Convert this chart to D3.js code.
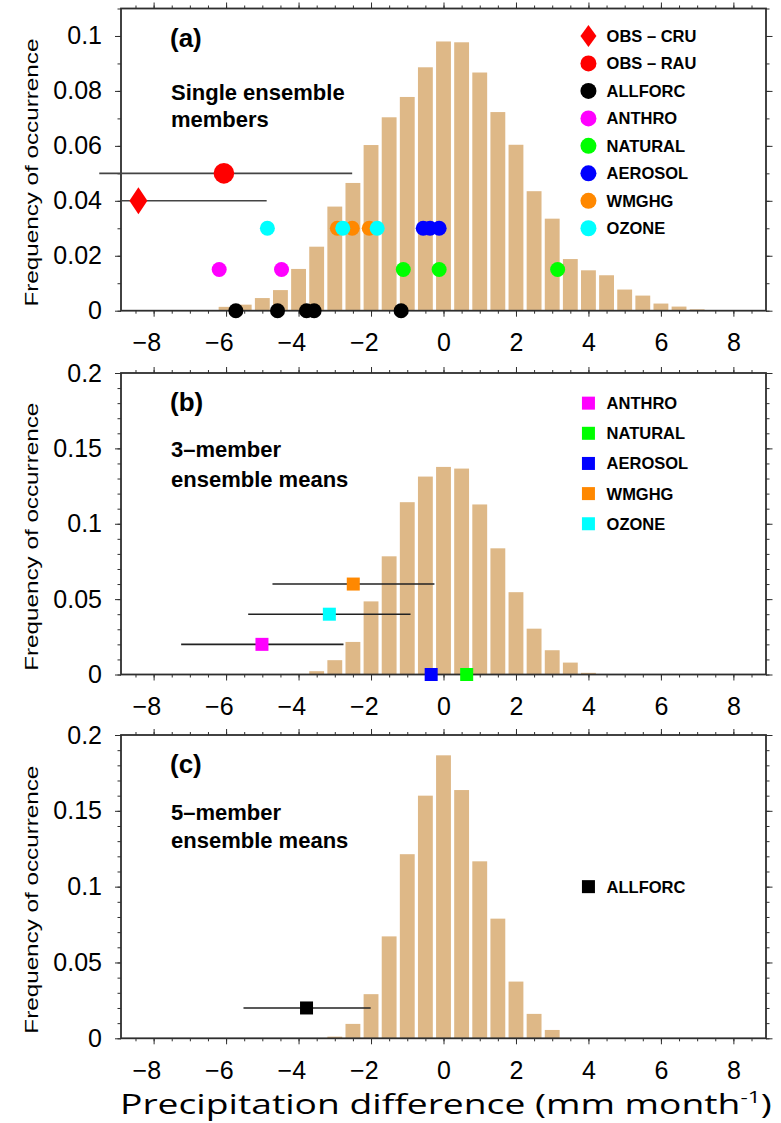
<!DOCTYPE html>
<html>
<head>
<meta charset="utf-8">
<script src="https://cdn.jsdelivr.net/npm/d3@7"></script>
<style>
body { margin: 0; background: #fff; }
svg { display: block; font-family: "Liberation Sans", Arial, Helvetica, sans-serif; }
</style>
</head>
<body>
<div id="chart"></div>
<script>
// histogram bin centres (mm/month) and frequency of occurrence
var binsA = [-6,-5.5,-5,-4.5,-4,-3.5,-3,-2.5,-2,-1.5,-1,-0.5,0,0.5,1,1.5,2,2.5,3,3.5,4,4.5,5,5.5,6,6.5,7];
var freqA = [0.0014,0.0022,0.0046,0.0075,0.0152,0.0233,0.0379,0.0465,0.0603,0.0704,0.0778,0.0886,0.0980,0.0977,0.0867,0.0723,0.0604,0.0435,0.0335,0.0188,0.0147,0.0129,0.0077,0.0055,0.0026,0.0015,0.0005];
var binsB = [-4,-3.5,-3,-2.5,-2,-1.5,-1,-0.5,0,0.5,1,1.5,2,2.5,3,3.5,4];
var freqB = [0.0004,0.0022,0.0095,0.0216,0.0485,0.0784,0.1143,0.1313,0.1377,0.1366,0.1128,0.0837,0.0546,0.0304,0.0161,0.0079,0.0011];
var binsC = [-3,-2.5,-2,-1.5,-1,-0.5,0,0.5,1,1.5,2,2.5,3];
var freqC = [0.0011,0.0095,0.0291,0.0672,0.1214,0.1600,0.1866,0.1637,0.1167,0.0789,0.0374,0.0161,0.0055];

// tick labels
var xTicks = [-8,-6,-4,-2,0,2,4,6,8];
var yTicksA = [0,0.02,0.04,0.06,0.08,0.1];
var yTicksBC = [0,0.05,0.1,0.15,0.2];

// (a) single ensemble members
var namesA = ["OBS \u2013 CRU","OBS \u2013 RAU","ALLFORC","ANTHRO","NATURAL","AEROSOL","WMGHG","OZONE"];
var valuesA = [[-8.42],[-6.06],[-5.73,-4.58,-3.78,-3.57,-1.17],[-6.19,-4.47],[-1.11,-0.12,3.15],[-0.56,-0.37,-0.12],[-2.93,-2.52,-2.05],[-4.86,-2.78,-1.83]];
var levelsA = [0.04,0.05,0,0.015,0.015,0.03,0.03,0.03];
var loA = [-8.9,-9.5,null,null,null,null,null,null];
var hiA = [-4.88,-2.52,null,null,null,null,null,null];

// (b) 3-member ensemble means
var namesB = ["ANTHRO","NATURAL","AEROSOL","WMGHG","OZONE"];
var meansB = [-5.01,0.64,-0.34,-2.49,-3.15];
var levelsB = [0.02,0,0,0.06,0.04];
var loB = [-7.24,null,null,-4.72,-5.39];
var hiB = [-2.76,null,null,-0.25,-0.91];

// (c) 5-member ensemble means
var namesC = ["ALLFORC"];
var meansC = [-3.78];
var levelsC = [0.02];
var loC = [-5.52];
var hiC = [-2.01];

var color = {
  "OBS \u2013 CRU": "#ff0000", "OBS \u2013 RAU": "#ff0000", "ALLFORC": "#000000",
  "ANTHRO": "#ff00ff", "NATURAL": "#00ff00", "AEROSOL": "#0000ff",
  "WMGHG": "#ff8800", "OZONE": "#00ffff"
};

var width = 781, height = 1123;
var svg = d3.select("#chart").append("svg")
    .attr("width", width)
    .attr("height", height);

svg.append("rect").attr("width", width).attr("height", height).attr("fill", "#fff");

var left = 121, right = 766;
var x = d3.scaleLinear().domain([-8.9, 8.9]).range([left, right]);
var xMinor = d3.range(-8.5, 8.6, 0.5);
var barHalf = 0.205;
var axisColor = "#2e2e2e";

function stripDomain(sel) { sel.select(".domain").remove(); }

function drawPanel(p) {
  var y = d3.scaleLinear().domain([0, p.ymax]).range([p.bottom, p.top]);
  var g = svg.append("g");
  var yMinor = d3.range(0, p.ymax + 1e-9, 0.01);

  // histogram
  g.append("g").selectAll("rect")
    .data(p.bins)
    .enter().append("rect")
      .attr("x", function(d) { return x(d - barHalf); })
      .attr("width", function(d) { return x(d + barHalf) - x(d - barHalf); })
      .attr("y", function(d, i) { return y(p.freq[i]); })
      .attr("height", function(d, i) { return p.bottom - y(p.freq[i]); })
      .attr("fill", "#deb887");

  // ticks, all pointing outwards
  g.append("g").attr("color", axisColor).attr("transform", "translate(0," + p.bottom + ")")
    .call(d3.axisBottom(x).tickValues(xMinor).tickSize(3).tickFormat("")).call(stripDomain);
  g.append("g").attr("color", axisColor).attr("transform", "translate(0," + p.top + ")")
    .call(d3.axisTop(x).tickValues(xMinor).tickSize(3).tickFormat("")).call(stripDomain);
  g.append("g").attr("color", axisColor).attr("transform", "translate(0," + p.top + ")")
    .call(d3.axisTop(x).tickValues(xTicks).tickSize(6).tickFormat("")).call(stripDomain);
  g.append("g").attr("color", axisColor).attr("transform", "translate(" + left + ",0)")
    .call(d3.axisLeft(y).tickValues(yMinor).tickSize(3.5).tickFormat("")).call(stripDomain);
  g.append("g").attr("color", axisColor).attr("transform", "translate(" + right + ",0)")
    .call(d3.axisRight(y).tickValues(yMinor).tickSize(3.5).tickFormat("")).call(stripDomain);
  g.append("g").attr("color", axisColor).attr("transform", "translate(" + right + ",0)")
    .call(d3.axisRight(y).tickValues(p.yTicks).tickSize(6.5).tickFormat("")).call(stripDomain);

  var xa = g.append("g").attr("color", axisColor).attr("transform", "translate(0," + p.bottom + ")")
    .call(d3.axisBottom(x).tickValues(xTicks).tickSize(6).tickPadding(17).tickFormat(d3.format("")))
    .call(stripDomain)
    .attr("font-size", 25).attr("font-family", "Liberation Sans, Arial, sans-serif");
  xa.selectAll("text").attr("fill", "#000").attr("dx", function(d) { return d < 0 ? "-0.29em" : null; });

  var ya = g.append("g").attr("color", axisColor).attr("transform", "translate(" + left + ",0)")
    .call(d3.axisLeft(y).tickValues(p.yTicks).tickSize(6).tickPadding(13).tickFormat(function(d) { return d; }))
    .call(stripDomain)
    .attr("font-size", 25).attr("font-family", "Liberation Sans, Arial, sans-serif");
  ya.selectAll("text").attr("fill", "#000");

  g.append("rect")
    .attr("x", left).attr("y", p.top)
    .attr("width", right - left).attr("height", p.bottom - p.top)
    .attr("fill", "none").attr("stroke", axisColor).attr("stroke-width", 1.8);

  g.append("text")
    .attr("transform", "translate(38," + ((p.top + p.bottom) / 2 + 13) + ") rotate(-90)")
    .attr("text-anchor", "middle")
    .attr("font-size", 18)
    .attr("textLength", 268).attr("lengthAdjust", "spacingAndGlyphs")
    .text("Frequency of occurrence");

  // panel letter and description
  g.append("text").attr("x", left + 49).attr("y", p.top + 38)
    .attr("font-size", 26).attr("font-weight", "bold").text(p.letter);
  p.caption.forEach(function(line, i) {
    g.append("text").attr("x", left + 50).attr("y", p.top + p.capY + i * p.capStep)
      .attr("font-size", 22).attr("font-weight", "bold").text(line);
  });

  // error bars
  g.append("g").selectAll("line")
    .data(p.names.filter(function(d, i) { return p.lo[i] !== null; }))
    .enter().append("line")
      .attr("x1", function(d) { return x(p.lo[p.names.indexOf(d)]); })
      .attr("x2", function(d) { return x(p.hi[p.names.indexOf(d)]); })
      .attr("y1", function(d) { return y(p.levels[p.names.indexOf(d)]); })
      .attr("y2", function(d) { return y(p.levels[p.names.indexOf(d)]); })
      .attr("stroke", p.lineColor).attr("stroke-width", 1.6);

  // markers
  p.names.forEach(function(name, i) {
    var vals = p.values[i];
    var sel = g.append("g").selectAll("g").data(vals).enter().append("g")
      .attr("transform", function(d) { return "translate(" + x(d) + "," + y(p.levels[i]) + ")"; });
    drawSymbol(sel, p.symbol(name), color[name], true);
  });

  // legend, placed in data coordinates
  var legend = g.append("g").attr("font-size", 16.5).attr("font-weight", "bold")
    .selectAll("g")
    .data(p.names)
    .enter().append("g")
      .attr("transform", function(d, i) { return "translate(" + x(4) + "," + y(p.legTop - i * p.legStep) + ")"; });
  legend.each(function(d) { drawSymbol(d3.select(this), p.symbol(d), color[d], false); });
  legend.append("text")
    .attr("x", x(4.5) - x(4))
    .attr("dy", "0.36em")
    .text(function(d) { return d; });
}

function drawSymbol(sel, type, fill, big) {
  if (type === "diamond") {
    var w = big ? 9 : 8, h = big ? 13.5 : 11;
    sel.append("path").attr("d", "M0," + (-h) + "L" + w + ",0L0," + h + "L" + (-w) + ",0Z").attr("fill", fill);
  } else if (type === "bigcircle") {
    sel.append("circle").attr("r", big ? 10.3 : 8).attr("fill", fill);
  } else if (type === "circle") {
    sel.append("circle").attr("r", big ? 7.5 : 8).attr("fill", fill);
  } else {
    sel.append("rect").attr("x", -6.5).attr("y", -6.5).attr("width", 13).attr("height", 13).attr("fill", fill);
  }
}

drawPanel({
  top: 8.5, bottom: 310.7, ymax: 0.11, yTicks: yTicksA,
  bins: binsA, freq: freqA,
  names: namesA, values: valuesA, levels: levelsA, lo: loA, hi: hiA,
  lineColor: "#444",
  symbol: function(n) { return n === namesA[0] ? "diamond" : (n === namesA[1] ? "bigcircle" : "circle"); },
  legTop: 0.1, legStep: 0.01,
  letter: "(a)", caption: ["Single ensemble", "members"], capY: 91.5, capStep: 27
});

drawPanel({
  top: 373, bottom: 674.5, ymax: 0.2, yTicks: yTicksBC,
  bins: binsB, freq: freqB,
  names: namesB, values: meansB.map(function(d) { return [d]; }), levels: levelsB, lo: loB, hi: hiB,
  lineColor: "#222",
  symbol: function() { return "square"; },
  legTop: 0.18, legStep: 0.02,
  letter: "(b)", caption: ["3\u2013member", "ensemble means"], capY: 84, capStep: 30
});

drawPanel({
  top: 735, bottom: 1038.3, ymax: 0.2, yTicks: yTicksBC,
  bins: binsC, freq: freqC,
  names: namesC, values: meansC.map(function(d) { return [d]; }), levels: levelsC, lo: loC, hi: hiC,
  lineColor: "#222",
  symbol: function() { return "square"; },
  legTop: 0.1, legStep: 0.02,
  letter: "(c)", caption: ["5\u2013member", "ensemble means"], capY: 85, capStep: 28
});

// x-axis title, stretched to the width of the frame
var title = svg.append("text")
    .attr("x", 0).attr("y", 0)
    .attr("font-family", "'Open Sans', Lato, sans-serif")
    .attr("font-size", 28);
title.append("tspan").text("Precipitation difference (mm month");
title.append("tspan").attr("font-size", 17).attr("dy", -11).text("-1");
title.append("tspan").attr("dy", 11).text(")");
var tw = title.node().getComputedTextLength();
title.attr("transform", "translate(120,1114) scale(" + (652 / tw) + ",1)");
</script>
</body>
</html>
